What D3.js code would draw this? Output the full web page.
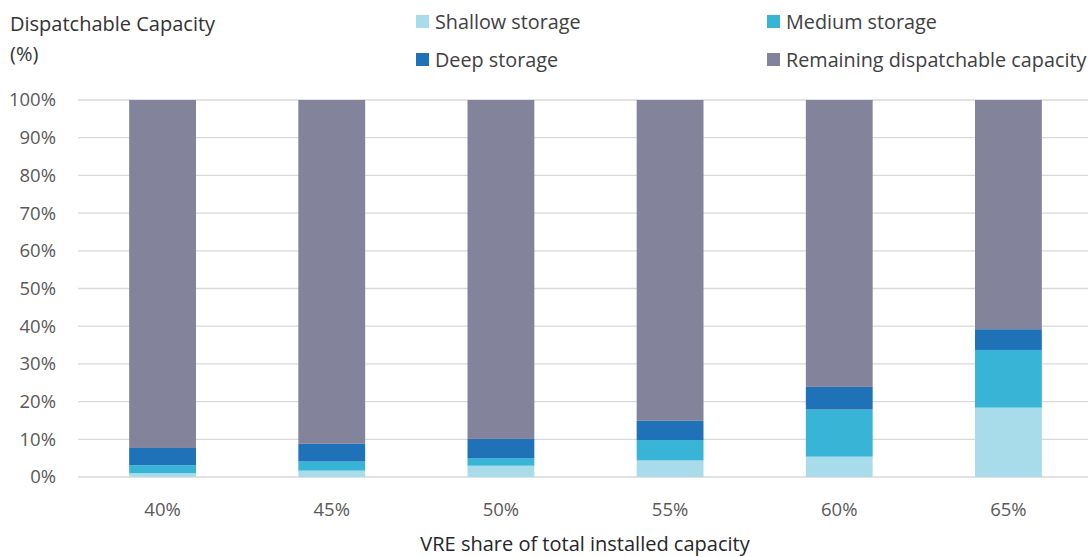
<!DOCTYPE html>
<html>
<head>
<meta charset="utf-8">
<script src="https://cdn.jsdelivr.net/npm/d3@7"></script>
<style>
  html, body { margin: 0; padding: 0; background: #ffffff; }
  svg { display: block; font-family: "Open Sans", "Noto Sans", sans-serif; }
</style>
</head>
<body>
<svg id="chart" width="1088" height="557"></svg>
<script>
// VRE share scenarios (x categories)
const categories = ["40%", "45%", "50%", "55%", "60%", "65%"];

// Share of dispatchable capacity (%) by storage type
const shallow = [1.0, 1.7, 3.0, 4.4, 5.4, 18.4];
const medium  = [2.1, 2.4, 2.0, 5.4, 12.5, 15.3];
const deep    = [4.6, 4.7, 5.1, 5.1, 6.0, 5.5];
const remaining = categories.map((_, i) => 100 - shallow[i] - medium[i] - deep[i]);

const seriesNames = ["Shallow storage", "Medium storage", "Deep storage", "Remaining dispatchable capacity"];
const seriesColors = ["#a9dcea", "#38b4d6", "#1f72b8", "#83839c"];
const yTicks = [0, 10, 20, 30, 40, 50, 60, 70, 80, 90, 100];

const svg = d3.select("#chart");

const rows = categories.map((c, i) => ({
  cat: c,
  "Shallow storage": shallow[i],
  "Medium storage": medium[i],
  "Deep storage": deep[i],
  "Remaining dispatchable capacity": remaining[i]
}));

const stacked = d3.stack().keys(seriesNames)(rows);

const x = d3.scaleBand().domain(categories).range([78, 1093]).paddingInner(0.605).paddingOuter(0.3025);
const y = d3.scaleLinear().domain([0, 100]).range([477, 100]);
const color = d3.scaleOrdinal().domain(seriesNames).range(seriesColors);

// gridlines
svg.append("g")
  .selectAll("line")
  .data(yTicks)
  .join("line")
  .attr("x1", 78).attr("x2", 1088)
  .attr("y1", d => y(d)).attr("y2", d => y(d))
  .attr("stroke", "#d9d9d9").attr("stroke-width", 1.3);

// y axis labels
const yAxis = d3.axisLeft(y).tickValues(yTicks).tickFormat(d => d + "%").tickSize(0).tickPadding(0);
const gy = svg.append("g").attr("transform", "translate(56,0)").call(yAxis);
gy.select(".domain").remove();
gy.selectAll("text").attr("font-size", 18.5).attr("fill", "#595959")
  .attr("font-family", "'Open Sans', 'Noto Sans', sans-serif");

// stacked bars
svg.append("g")
  .selectAll("g")
  .data(stacked)
  .join("g")
  .attr("fill", d => color(d.key))
  .selectAll("rect")
  .data(d => d)
  .join("rect")
  .attr("x", d => x(d.data.cat))
  .attr("width", x.bandwidth())
  .attr("y", d => y(d[1]))
  .attr("height", d => y(d[0]) - y(d[1]));

// x axis labels
const xAxis = d3.axisBottom(x).tickSize(0).tickPadding(0);
const gx = svg.append("g").attr("transform", "translate(0,503)").call(xAxis);
gx.select(".domain").remove();
gx.selectAll("text").attr("font-size", 18.5).attr("fill", "#595959")
  .attr("font-family", "'Open Sans', 'Noto Sans', sans-serif");

// axis titles
svg.append("text").attr("x", 10).attr("y", 31)
  .attr("font-size", 20).attr("fill", "#333333").text("Dispatchable Capacity");
svg.append("text").attr("x", 10).attr("y", 61)
  .attr("font-size", 20).attr("fill", "#333333").text("(%)");
svg.append("text").attr("x", 585).attr("y", 551).attr("text-anchor", "middle")
  .attr("font-size", 20).attr("fill", "#262626").text("VRE share of total installed capacity");

// legend
const legendPos = [[416, 22], [767, 22], [416, 60], [767, 60]];
const legend = svg.append("g")
  .selectAll("g")
  .data(seriesNames)
  .join("g")
  .attr("transform", (d, i) => `translate(${legendPos[i][0]},${legendPos[i][1]})`);
legend.append("rect").attr("x", 0).attr("y", -7).attr("width", 13).attr("height", 13)
  .attr("fill", d => color(d));
legend.append("text").attr("x", 19).attr("y", 0).attr("dy", "0.35em")
  .attr("font-size", 19.8).attr("fill", "#404040").text(d => d);
</script>
</body>
</html>
